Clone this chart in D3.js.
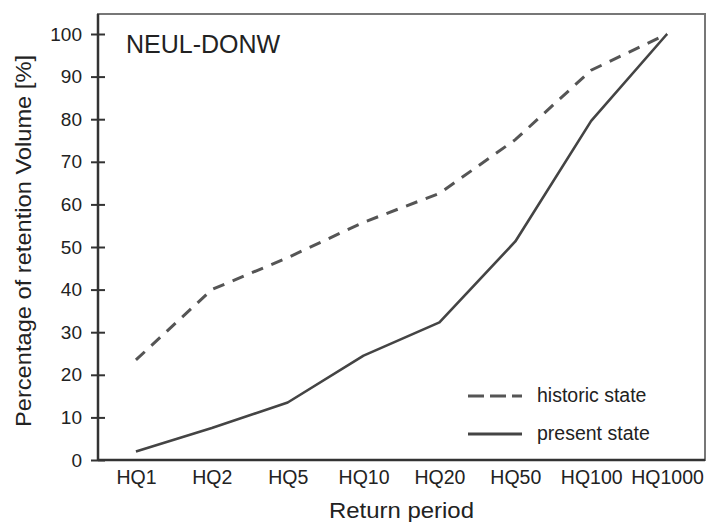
<!DOCTYPE html>
<html>
<head>
<meta charset="utf-8">
<script src="https://cdn.jsdelivr.net/npm/d3@7/dist/d3.min.js"></script>
<style>
	body { margin: 0; background: #fff; }
	text { font-family: "Liberation Sans", Arial, sans-serif; fill: #222; }
</style>
</head>
<body>
<div id="chart"></div>
<script>

var categories = ["HQ1", "HQ2", "HQ5", "HQ10", "HQ20", "HQ50", "HQ100", "HQ1000"];
var historic = [23.5, 40, 47.5, 55.8, 62.6, 75.2, 91.5, 100];
var present = [2, 7.5, 13.5, 24.5, 32.3, 51.3, 79.6, 100];
var yTicks = [0, 10, 20, 30, 40, 50, 60, 70, 80, 90, 100];
var seriesNames = ["historic state", "present state"];

var width = 708, height = 522;
var margin = {left: 98, right: 3, top: 14, bottom: 62};

var svg = d3.select("#chart")
			.append("svg")
			.attr("width", width)
			.attr("height", height);

var x = d3.scalePoint()
			.domain(categories)
			.range([margin.left, width - margin.right])
			.padding(0.5);

var y = d3.scaleLinear()
			.domain([0, 100])
			.range([height - margin.bottom, margin.top + 20]);

// frame (top / right are lighter)
svg.append("rect")
	.attr("x", margin.left)
	.attr("y", margin.top)
	.attr("width", width - margin.right - margin.left)
	.attr("height", height - margin.bottom - margin.top)
	.attr("fill", "none")
	.attr("stroke", "#777")
	.attr("stroke-width", 2);

// y axis
var yAxis = svg.append("g")
			.attr("transform", "translate(" + margin.left + ",0)")
			.call(d3.axisLeft(y).tickValues(yTicks).tickSize(7).tickPadding(9));
yAxis.select(".domain").remove();
yAxis.append("line")
	.attr("x1", 0).attr("x2", 0)
	.attr("y1", margin.top).attr("y2", height - margin.bottom)
	.attr("stroke", "#333").attr("stroke-width", 2.5);
yAxis.selectAll(".tick line")
	.attr("x1", 7).attr("x2", -7)
	.attr("stroke", "#333").attr("stroke-width", 2);
yAxis.selectAll(".tick text")
	.style("font-size", "19px")
	.attr("fill", "#222");

// x axis
var xAxis = svg.append("g")
			.attr("transform", "translate(0," + (height - margin.bottom) + ")")
			.call(d3.axisBottom(x).tickSize(0).tickPadding(10));
xAxis.select(".domain").remove();
xAxis.append("line")
	.attr("x1", margin.left).attr("x2", width - margin.right)
	.attr("y1", 0).attr("y2", 0)
	.attr("stroke", "#333").attr("stroke-width", 2.5);
xAxis.selectAll(".tick text")
	.style("font-size", "19.5px")
	.attr("fill", "#222");

// axis titles
svg.append("text")
	.attr("x", (margin.left + width - margin.right) / 2)
	.attr("y", 518)
	.attr("text-anchor", "middle")
	.style("font-size", "22px")
	.attr("textLength", 145)
	.attr("lengthAdjust", "spacingAndGlyphs")
	.text("Return period");

svg.append("text")
	.attr("transform", "translate(31,241) rotate(-90)")
	.attr("text-anchor", "middle")
	.style("font-size", "21.5px")
	.attr("textLength", 372)
	.attr("lengthAdjust", "spacingAndGlyphs")
	.text("Percentage of retention Volume [%]");

// title
svg.append("text")
	.attr("x", 126)
	.attr("y", 53)
	.style("font-size", "25px")
	.text("NEUL-DONW");

// lines
var line = d3.line()
			.x(function(d, i){ return x(categories[i]); })
			.y(function(d){ return y(d); });

svg.append("path")
	.datum(historic)
	.attr("d", line)
	.attr("fill", "none")
	.attr("stroke", "#555")
	.attr("stroke-width", 3)
	.attr("stroke-dasharray", "12,9");

svg.append("path")
	.datum(present)
	.attr("d", line)
	.attr("fill", "none")
	.attr("stroke", "#444")
	.attr("stroke-width", 2.6)
	.attr("stroke-linejoin", "round");

// legend
var legend = svg.append("g");
var legendY = [396, 434];
seriesNames.forEach(function(name, i){
	legend.append("line")
		.attr("x1", 468).attr("x2", 522)
		.attr("y1", legendY[i]).attr("y2", legendY[i])
		.attr("stroke", i === 0 ? "#555" : "#444")
		.attr("stroke-width", 3)
		.attr("stroke-dasharray", i === 0 ? "16,6" : null);
	legend.append("text")
		.attr("x", 537)
		.attr("y", legendY[i] + 6)
		.style("font-size", "19.5px")
		.text(name);
});

</script>
</body>
</html>
